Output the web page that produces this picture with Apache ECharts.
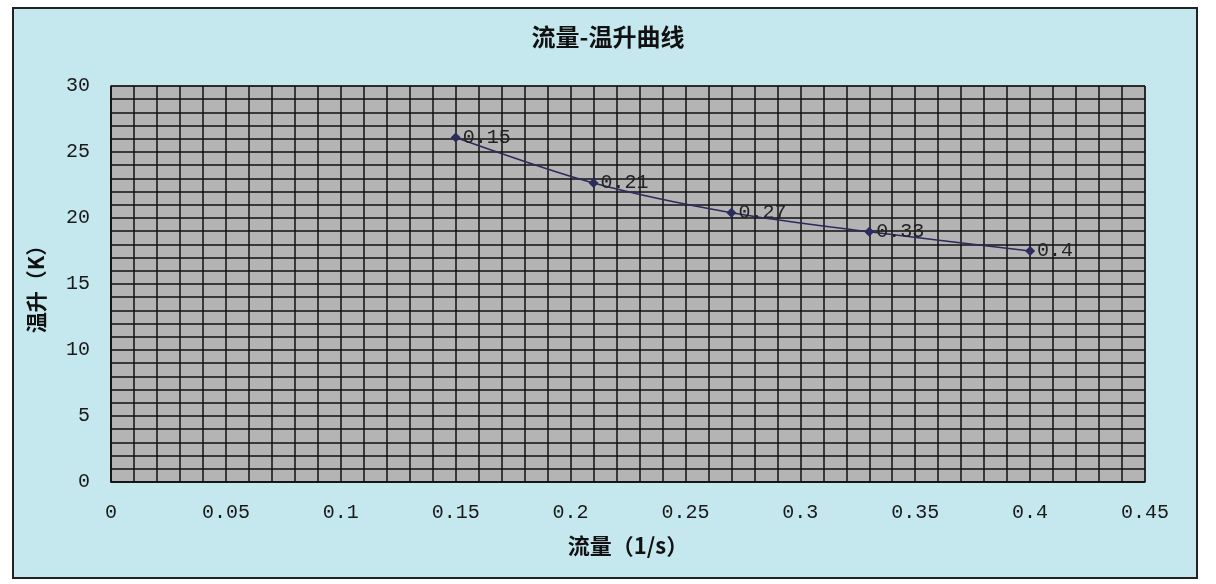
<!DOCTYPE html>
<html><head><meta charset="utf-8">
<script src="https://cdn.jsdelivr.net/npm/echarts@6/dist/echarts.min.js"></script>
<style>
html,body{margin:0;padding:0;background:#fff;}
#frame{position:absolute;left:12px;top:7px;width:1182px;height:568px;border:2px solid #222;background:#C5E8EE;}
#c{position:absolute;left:0;top:0;width:1216px;height:584px;}
</style></head>
<body>
<div id="frame"></div>
<div id="c"></div>
<script>
const flow = [0.15, 0.21, 0.27, 0.33, 0.4];
const tempRise = [26.1, 22.65, 20.4, 18.95, 17.5];
const titleText = '流量-温升曲线';
const xName = '流量（1/s）';
const yName = '温升（K）';

const chart = echarts.init(document.getElementById('c'));
const gridLine = {show: true, lineStyle: {color: '#111', width: 1.5}};
const tickFont = 'Liberation Mono';
chart.setOption({
  backgroundColor: 'transparent',
  animation: false,
  title: {text: titleText, left: 'center', top: 20,
    textStyle: {fontFamily: 'Noto Sans CJK SC', fontWeight: 'bold', fontSize: 24, color: '#111'}},
  grid: {left: 111, right: 71, top: 86, bottom: 102, show: true,
    backgroundColor: '#B4B4B4', borderColor: '#333', borderWidth: 1},
  xAxis: {type: 'value', min: 0, max: 0.45, interval: 0.05,
    name: xName, nameLocation: 'middle', nameGap: 53,
    nameTextStyle: {fontFamily: 'Noto Sans CJK SC', fontWeight: 'bold', fontSize: 22, color: '#111'},
    axisLine: {show: true, lineStyle: {color: '#111', width: 1.5}},
    axisTick: {show: false},
    axisLabel: {margin: 21, fontFamily: tickFont, fontSize: 20, color: '#1a1a1a',
      formatter: v => String(+v.toFixed(2))},
    splitLine: gridLine,
    minorTick: {show: false, splitNumber: 5},
    minorSplitLine: gridLine},
  yAxis: {type: 'value', min: 0, max: 30, interval: 5,
    name: yName, nameLocation: 'middle', nameGap: 64,
    nameTextStyle: {fontFamily: 'Noto Sans CJK SC', fontWeight: 'bold', fontSize: 21, color: '#111'},
    axisLine: {show: true, lineStyle: {color: '#111', width: 1.5}},
    axisTick: {show: false},
    axisLabel: {margin: 21, fontFamily: tickFont, fontSize: 20, color: '#1a1a1a'},
    splitLine: gridLine,
    minorTick: {show: false, splitNumber: 5},
    minorSplitLine: gridLine},
  series: [{
    type: 'line', smooth: 0.3,
    data: flow.map((x, i) => [x, tempRise[i]]),
    symbol: 'diamond', symbolSize: 10,
    itemStyle: {color: '#2B2B5C'},
    lineStyle: {color: '#2B2B5C', width: 1.5},
    label: {show: true, position: 'right', distance: 2,
      fontFamily: tickFont, fontSize: 20, color: '#222',
      formatter: p => String(p.value[0])}
  }]
});
</script>
</body></html>
